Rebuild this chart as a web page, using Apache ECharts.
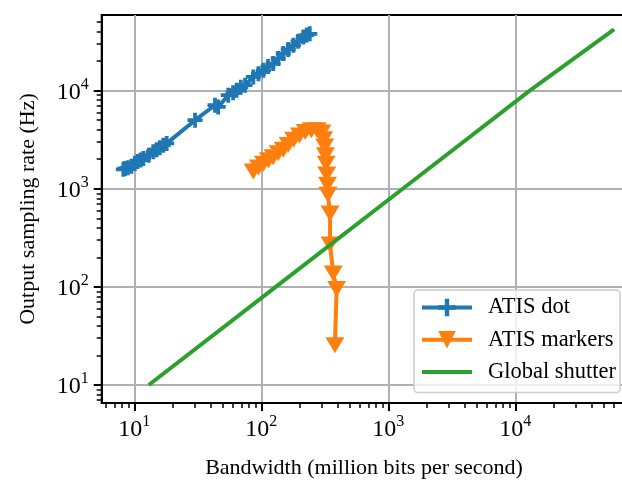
<!DOCTYPE html>
<html>
<head>
<meta charset="utf-8">
<script src="https://cdn.jsdelivr.net/npm/echarts@6/dist/echarts.min.js"></script>
<style>
  html, body { margin: 0; padding: 0; background: #fff; }
  #chart { width: 622px; height: 481px; }
</style>
</head>
<body>
<div id="chart"></div>
<script>
// ATIS dot (blue, '+' markers)
var atisDotX = [8.2, 8.45, 8.9, 9.5, 10.1, 10.6, 11.2, 11.8, 13.0, 14.1, 15.0, 15.9, 16.9, 18.0,
                30.1, 43.2, 45.8, 55, 60, 64, 69, 74.5, 86.6, 95, 104, 113, 124, 136, 149,
                163, 179, 195, 214, 228, 241];
var atisDotY = [1580, 1610, 1640, 1700, 1810, 1900, 1960, 2040, 2200, 2380, 2500, 2620, 2780, 2900,
                5000, 7100, 6830, 8980, 9500, 10100, 10800, 11350, 13800, 14900, 16100, 17600, 18900, 21200, 23900,
                26300, 29000, 31800, 35200, 36800, 37900];

// ATIS markers (orange, 'v' markers)
var atisMarkersX = [86.5, 95, 104, 114, 124, 136, 149, 163, 180, 200, 222, 248, 275, 300,
                    310, 316, 320, 324, 328, 332, 335, 348, 348, 369, 392, 380];
var atisMarkersY = [1500, 1650, 1800, 1950, 2100, 2300, 2500, 2800, 3150, 3500, 3800, 3950, 3950, 3750,
                    3200, 2700, 2200, 1800, 1400, 1100, 870, 560, 270, 137, 95, 25.5];

// Global shutter (green line)
var globalX = [13, 130, 1300, 13000, 60000];
var globalY = [10, 100, 1000, 10000, 42000];

var majorX = [10, 100, 1000, 10000];
var majorY = [10, 100, 1000, 10000];
var minorX = [6, 7, 8, 9, 20, 30, 40, 50, 60, 70, 80, 90, 200, 300, 400, 500, 600, 700, 800, 900,
              2000, 3000, 4000, 5000, 6000, 7000, 8000, 9000, 20000, 30000, 40000, 50000, 60000, 70000];
var minorY = [7, 8, 9, 20, 30, 40, 50, 60, 70, 80, 90, 200, 300, 400, 500, 600, 700, 800, 900,
              2000, 3000, 4000, 5000, 6000, 7000, 8000, 9000, 20000, 30000, 40000, 50000];

function pairs(xs, ys) {
    var out = [];
    for (var i = 0; i < xs.length; i++) out.push([xs[i], ys[i]]);
    return out;
}

function powLabel(v) {
    var e = Math.round(Math.log(v) / Math.LN10);
    return '{b|10}{s|' + e + '}';
}

var serif = 'Liberation Serif';
var labelRich = {
    b: { fontFamily: serif, fontSize: 24, color: '#000', lineHeight: 28, verticalAlign: 'bottom' },
    s: { fontFamily: serif, fontSize: 16, color: '#000', lineHeight: 28, verticalAlign: 'top' }
};

var xMin = 5.54, xMax = 75000, yMin = 6.56, yMax = 59000;
var plusPath = 'path://M7.5,0 H12.5 V7.5 H20 V12.5 H12.5 V20 H7.5 V12.5 H0 V7.5 H7.5 Z';
var vPath = 'path://M0,0 L20,0 L10,17 Z';

var chart = echarts.init(document.getElementById('chart'));

var option = {
    animation: false,
    backgroundColor: '#fff',
    grid: {
        left: 101.7, top: 15, right: -4.4, bottom: 78,
        outerBoundsMode: 'none', containLabel: false,
        show: true, borderColor: '#000', borderWidth: 2, backgroundColor: 'transparent'
    },
    xAxis: [{
        type: 'log', logBase: 10, min: xMin, max: xMax, position: 'bottom',
        name: 'Bandwidth (million bits per second)', nameLocation: 'middle', nameGap: 54,
        nameTextStyle: { fontFamily: serif, fontSize: 22, color: '#000' },
        axisLine: { show: true, onZero: false, lineStyle: { color: '#000', width: 2 } },
        axisTick: { show: true, inside: false, length: 8, customValues: majorX, lineStyle: { color: '#000', width: 2 } },
        axisLabel: { customValues: majorX, formatter: powLabel, rich: labelRich, margin: 11 },
        splitLine: { show: true, lineStyle: { color: '#b0b0b0', width: 2 } },
        minorTick: { show: false }
    }, {
        type: 'log', logBase: 10, min: xMin, max: xMax, position: 'bottom',
        axisLine: { show: false },
        axisTick: { show: true, inside: false, length: 5, customValues: minorX, lineStyle: { color: '#000', width: 1.5 } },
        axisLabel: { show: false },
        splitLine: { show: false }
    }],
    yAxis: [{
        type: 'log', logBase: 10, min: yMin, max: yMax, position: 'left',
        name: 'Output sampling rate (Hz)', nameLocation: 'middle', nameGap: 62,
        nameTextStyle: { fontFamily: serif, fontSize: 22, color: '#000' },
        axisLine: { show: true, onZero: false, lineStyle: { color: '#000', width: 2 } },
        axisTick: { show: true, inside: false, length: 8, customValues: majorY, lineStyle: { color: '#000', width: 2 } },
        axisLabel: { customValues: majorY, formatter: powLabel, rich: labelRich, margin: 13 },
        splitLine: { show: true, lineStyle: { color: '#b0b0b0', width: 2 } },
        minorTick: { show: false }
    }, {
        type: 'log', logBase: 10, min: yMin, max: yMax, position: 'left',
        axisLine: { show: false },
        axisTick: { show: true, inside: false, length: 5, customValues: minorY, lineStyle: { color: '#000', width: 1.5 } },
        axisLabel: { show: false },
        splitLine: { show: false }
    }],
    legend: {
        left: 414, top: 290,
        orient: 'vertical',
        padding: [6, 4, 9, 6],
        itemWidth: 50, itemHeight: 22, itemGap: 9.3,
        backgroundColor: 'rgba(255,255,255,0.8)',
        borderColor: '#cccccc', borderWidth: 1.5, borderRadius: 4,
        lineStyle: { width: 4 },
        textStyle: { fontFamily: serif, fontSize: 22.5, lineHeight: 22, color: '#000', padding: [0, 0, 0, 11] },
        data: [
            { name: 'ATIS dot' },
            { name: 'ATIS markers' },
            { name: 'Global shutter', itemStyle: { opacity: 0 } }
        ]
    },
    series: [{
        name: 'ATIS dot', type: 'line',
        data: pairs(atisDotX, atisDotY),
        color: '#1f77b4',
        lineStyle: { width: 4, color: '#1f77b4' },
        symbol: plusPath, symbolSize: 15,
        itemStyle: { color: '#1f77b4' },
        z: 3
    }, {
        name: 'ATIS markers', type: 'line',
        data: pairs(atisMarkersX, atisMarkersY),
        color: '#ff7f0e',
        lineStyle: { width: 4, color: '#ff7f0e' },
        symbol: vPath, symbolSize: [19, 16],
        itemStyle: { color: '#ff7f0e' },
        z: 4
    }, {
        name: 'Global shutter', type: 'line',
        data: pairs(globalX, globalY),
        color: '#2ca02c',
        lineStyle: { width: 4, color: '#2ca02c' },
        symbol: 'none',
        z: 5
    }]
};

chart.setOption(option);
</script>
</body>
</html>
